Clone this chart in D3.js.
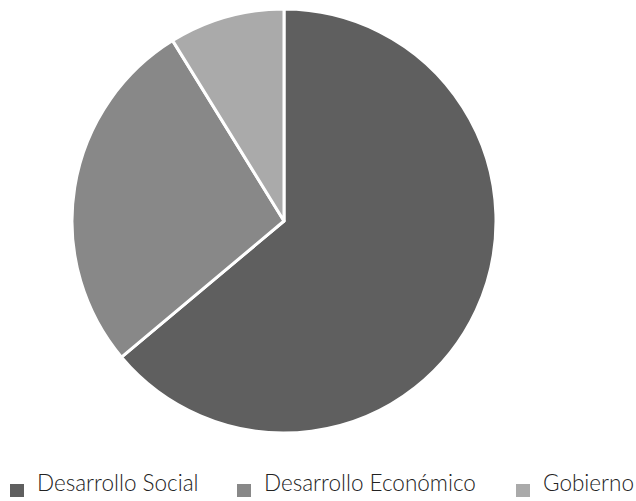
<!DOCTYPE html>
<html>
<head>
<meta charset="utf-8">
<script src="https://cdn.jsdelivr.net/npm/d3@7"></script>
<style>
  html, body { margin: 0; padding: 0; background: #fff; }
  svg { display: block; }
</style>
</head>
<body>
<svg id="chart" width="636" height="501"></svg>
<script>
// Distribution by area (percent)
const categories = ["Desarrollo Social", "Desarrollo Económico", "Gobierno"];
const values = [63.9, 27.3, 8.8];
const colors = ["#5f5f5f", "#888888", "#aaaaaa"];

const svg = d3.select("#chart");
const cx = 284, cy = 221, radius = 212;

const pie = d3.pie().sort(null).value(d => d.value);
const arc = d3.arc().innerRadius(0).outerRadius(radius);

const data = categories.map((c, i) => ({ name: c, value: values[i] }));
const color = d3.scaleOrdinal().domain(categories).range(colors);

svg.append("g")
  .attr("transform", `translate(${cx},${cy})`)
  .selectAll("path")
  .data(pie(data))
  .join("path")
  .attr("d", arc)
  .attr("fill", d => color(d.data.name))
  .attr("stroke", "#fff")
  .attr("stroke-width", 3)
  .attr("stroke-linejoin", "round");

// Legend along the bottom
const legendX = [10, 237, 516];
const legend = svg.append("g").attr("font-family", "Lato, sans-serif")
  .attr("font-weight", 300).attr("font-size", 22.5).attr("fill", "#222");

categories.forEach((c, i) => {
  const g = legend.append("g").attr("transform", `translate(${legendX[i]},0)`);
  g.append("rect").attr("x", 0).attr("y", 484).attr("width", 14).attr("height", 13)
    .attr("fill", color(c));
  g.append("text").attr("x", 27).attr("y", 491).text(c);
});
</script>
</body>
</html>
